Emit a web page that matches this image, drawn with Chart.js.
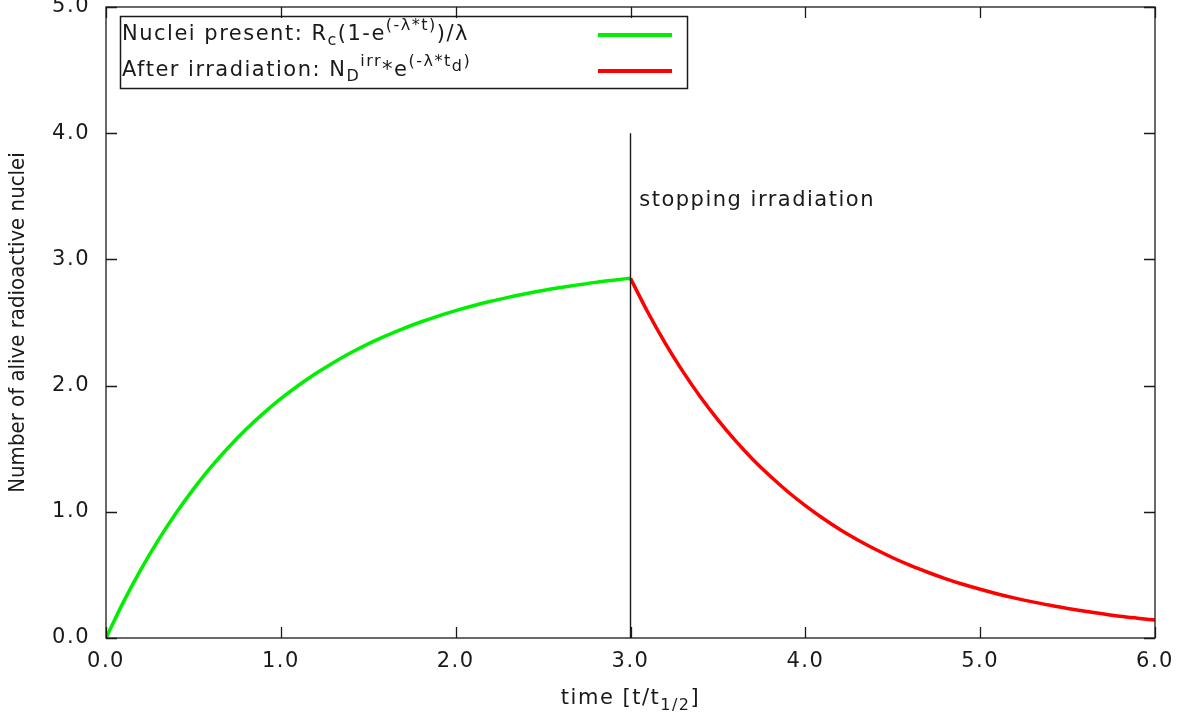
<!DOCTYPE html>
<html>
<head>
<meta charset="utf-8">
<title>Radioactive nuclei during and after irradiation</title>
<script src="https://cdn.jsdelivr.net/npm/chart.js@4.4.1/dist/chart.umd.min.js"></script>
<style>
  html, body { margin: 0; padding: 0; background: #fff; }
  #wrap { position: relative; width: 1182px; height: 719px; }
</style>
</head>
<body>
<div id="wrap"><canvas id="chart"></canvas></div>
<script>
/* ─── Data ───────────────────────────────────────────────── */
const riseTime = [0.0, 0.1, 0.2, 0.3, 0.4, 0.5, 0.6, 0.7, 0.8, 0.9, 1.0,
                  1.1, 1.2, 1.3, 1.4, 1.5, 1.6, 1.7, 1.8, 1.9, 2.0,
                  2.1, 2.2, 2.3, 2.4, 2.5, 2.6, 2.7, 2.8, 2.9, 3.0];
const riseNuclei = [0.000, 0.286, 0.544, 0.778, 0.989, 1.180, 1.354, 1.510, 1.652, 1.780, 1.896,
                    2.001, 2.096, 2.182, 2.260, 2.331, 2.394, 2.452, 2.504, 2.551, 2.594,
                    2.633, 2.668, 2.699, 2.728, 2.754, 2.777, 2.798, 2.818, 2.835, 2.851];

const decayTime = [3.0, 3.1, 3.2, 3.3, 3.4, 3.5, 3.6, 3.7, 3.8, 3.9, 4.0,
                   4.1, 4.2, 4.3, 4.4, 4.5, 4.6, 4.7, 4.8, 4.9, 5.0,
                   5.1, 5.2, 5.3, 5.4, 5.5, 5.6, 5.7, 5.8, 5.9, 6.0];
const decayNuclei = [2.850, 2.579, 2.333, 2.111, 1.910, 1.729, 1.564, 1.415, 1.281, 1.159, 1.049,
                     0.949, 0.858, 0.777, 0.703, 0.636, 0.575, 0.521, 0.471, 0.426, 0.386,
                     0.349, 0.316, 0.286, 0.259, 0.234, 0.212, 0.192, 0.173, 0.157, 0.142];

const stopTime   = [3.0, 3.0];
const stopNuclei = [0.0, 4.0];
const stopLabel  = 'stopping irradiation';
const stopLabelAt = [3.05, 3.42];

const xRange = [0, 6];
const yRange = [0, 5];

const xTitle = [['time [t/t', 0], ['1/2', 'sub'], [']', 0]];
const yTitle = 'Number of alive radioactive nuclei';

const legendRise  = [['Nuclei present: R', 0], ['c', 'sub'], ['(1-e', 0], ['(-λ*t)', 'sup'], [')/λ', 0]];
const legendDecay = [['After irradiation: N', 0], ['D', 'sub'], ['irr', 'sup'], ['*e', 0],
                     ['(-λ*t', 'sup'], ['d', 'supsub'], [')', 'sup']];

/* ─── Styling ────────────────────────────────────────────── */
const FONT    = "'DejaVu Sans', sans-serif";
const INK     = '#1a1a1a';
const GREEN   = '#00ee00';
const RED     = '#ff0000';
const TICKLEN = 11;
const FS      = 21;
const SPACING = '1.5px';

Chart.defaults.font.family = FONT;
Chart.defaults.color = INK;

const pts = (xs, ys) => xs.map((x, i) => ({ x, y: ys[i] }));

/* ─── Helpers ────────────────────────────────────────────── */
function drawRich(ctx, segs, x, y, size) {
  segs.forEach(([txt, mode]) => {
    const fs = mode ? Math.round(size * 0.74) : size;
    let dy = 0;
    if (mode === 'sup') dy = -size * 0.42;
    if (mode === 'sub') dy = size * 0.3;
    if (mode === 'supsub') dy = -size * 0.2;
    ctx.font = `${fs}px ${FONT}`;
    ctx.fillText(txt, x, y + dy);
    x += ctx.measureText(txt).width;
  });
  return x;
}

function richWidth(ctx, segs, size) {
  return segs.reduce((w, [txt, mode]) => {
    ctx.font = `${mode ? Math.round(size * 0.74) : size}px ${FONT}`;
    return w + ctx.measureText(txt).width;
  }, 0);
}

/* ─── gnuplot-like frame, ticks, titles, key ─────────────── */
const frame = {
  id: 'frame',
  beforeDraw(chart) {
    chart.ctx.letterSpacing = SPACING;
  },
  afterDraw(chart) {
    const { ctx, chartArea: a, scales: { x, y } } = chart;
    ctx.save();
    ctx.strokeStyle = INK;
    ctx.lineWidth = 1.3;

    // border
    ctx.strokeRect(a.left, a.top, a.right - a.left, a.bottom - a.top);

    // inward ticks, mirrored
    ctx.beginPath();
    x.ticks.forEach(t => {
      const px = Math.round(x.getPixelForValue(t.value)) + 0.5;
      ctx.moveTo(px, a.bottom); ctx.lineTo(px, a.bottom - TICKLEN);
      ctx.moveTo(px, a.top);    ctx.lineTo(px, a.top + TICKLEN);
    });
    y.ticks.forEach(t => {
      const py = Math.round(y.getPixelForValue(t.value)) + 0.5;
      ctx.moveTo(a.left, py);  ctx.lineTo(a.left + TICKLEN, py);
      ctx.moveTo(a.right, py); ctx.lineTo(a.right - TICKLEN, py);
    });
    ctx.stroke();

    ctx.fillStyle = INK;
    ctx.letterSpacing = SPACING;

    // annotation next to the stop line
    ctx.font = `${FS}px ${FONT}`;
    ctx.textAlign = 'left';
    ctx.textBaseline = 'alphabetic';
    ctx.fillText(stopLabel, x.getPixelForValue(stopLabelAt[0]), y.getPixelForValue(stopLabelAt[1]));

    // x title (with subscript)
    const w = richWidth(ctx, xTitle, FS);
    drawRich(ctx, xTitle, (a.left + a.right) / 2 - w / 2, 704, FS);

    // y title
    ctx.save();
    ctx.letterSpacing = '0px';
    ctx.translate(18, (a.top + a.bottom) / 2);
    ctx.rotate(-Math.PI / 2);
    ctx.textAlign = 'center';
    ctx.textBaseline = 'middle';
    ctx.font = `22px 'DejaVu Sans Condensed', ${FONT}`;
    ctx.fillText(yTitle, 0, 0);
    ctx.restore();

    // key box
    ctx.lineWidth = 1.5;
    ctx.strokeRect(120.5, 16.5, 567, 72);
    ctx.textBaseline = 'middle';
    drawRich(ctx, legendRise, 122, 35, FS);
    drawRich(ctx, legendDecay, 122, 71, FS);

    ctx.lineWidth = 4;
    ctx.strokeStyle = GREEN;
    ctx.beginPath(); ctx.moveTo(598, 35); ctx.lineTo(672, 35); ctx.stroke();
    ctx.strokeStyle = RED;
    ctx.beginPath(); ctx.moveTo(598, 71); ctx.lineTo(672, 71); ctx.stroke();

    ctx.restore();
  },
};

/* ─── Chart ──────────────────────────────────────────────── */
const tickFont = { family: FONT, size: FS };

new Chart(document.getElementById('chart'), {
  type: 'scatter',
  data: {
    datasets: [
      {
        label: 'stop',
        data: pts(stopTime, stopNuclei),
        showLine: true,
        borderColor: INK,
        borderWidth: 1.4,
        pointRadius: 0,
        order: 0,
      },
      {
        label: 'Nuclei present',
        data: pts(riseTime, riseNuclei),
        showLine: true,
        borderColor: GREEN,
        borderWidth: 3.5,
        pointRadius: 0,
        cubicInterpolationMode: 'monotone',
        order: 1,
      },
      {
        label: 'After irradiation',
        data: pts(decayTime, decayNuclei),
        showLine: true,
        borderColor: RED,
        borderWidth: 3.5,
        pointRadius: 0,
        cubicInterpolationMode: 'monotone',
        order: 2,
      },
    ],
  },
  options: {
    responsive: true,
    maintainAspectRatio: false,
    animation: false,
    devicePixelRatio: 1,
    layout: { padding: { top: 7, right: 27, bottom: 0, left: 0 } },
    plugins: { legend: { display: false }, tooltip: { enabled: false } },
    scales: {
      x: {
        type: 'linear',
        min: xRange[0], max: xRange[1],
        grid:   { display: false, drawTicks: false },
        border: { display: false },
        ticks:  { stepSize: 1, padding: 11, color: INK, font: tickFont, maxRotation: 0, autoSkip: false,
                  callback: v => v.toFixed(1) },
        afterFit(s) { s.height = 81; s.paddingLeft = 0; s.paddingRight = 0; },
      },
      y: {
        type: 'linear',
        min: yRange[0], max: yRange[1],
        grid:   { display: false, drawTicks: false },
        border: { display: false },
        ticks:  { stepSize: 1, padding: 16, color: INK, font: tickFont,
                  callback: v => v.toFixed(1) },
        afterFit(s) { s.width = 106; s.paddingTop = 0; s.paddingBottom = 0; },
      },
    },
  },
  plugins: [frame],
});
</script>
</body>
</html>
